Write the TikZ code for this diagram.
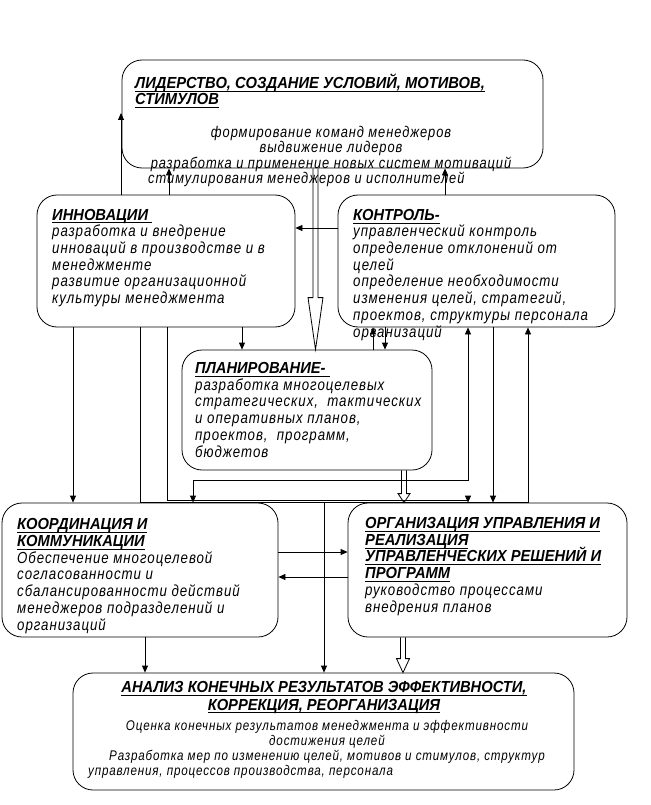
\documentclass[tikz,border=0pt]{standalone}
\usepackage{fontspec}
\newfontfamily\bodyfont{Liberation Sans}[FakeStretch=0.83,LetterSpace=6]
\newfontfamily\headfont{Liberation Sans}[FakeStretch=0.92]
\usetikzlibrary{arrows.meta,calc}

\newcommand{\hd}[1]{\smash{\headfont\bfseries\itshape\setbox0\hbox{#1}\rlap{\rule[-3.2pt]{\wd0}{0.75pt}}\box0}}
\newcommand{\hollowarr}[5]{%
  \draw[ln] ($(#1,0 |- #2)+(-2.5,0)$) -- ($(#1,0 |- #3)+(-2.5,-#4)$) -- ($(#1,0 |- #3)+(-#5,-#4)$)
    -- (#1,0 |- #3) -- ($(#1,0 |- #3)+(#5,-#4)$) -- ($(#1,0 |- #3)+(2.5,-#4)$) -- ($(#1,0 |- #2)+(2.5,0)$);}

\tikzset{
  blk/.style={draw, line width=0.8pt, rounded corners=20pt, inner sep=0pt},
  txt/.style={inner sep=0pt, anchor=base west, align=left, font=\bodyfont\itshape\fontsize{16}{16.7}\selectfont},
  ln/.style={line width=0.8pt},
  arr/.style={ln, -{Triangle[length=7pt,width=6pt]}},
  biarr/.style={ln, {Triangle[length=7pt,width=6pt]}-{Triangle[length=7pt,width=6pt]}},
}

\begin{document}
\begin{tikzpicture}[x=1pt,y=-1pt]
\useasboundingbox (0,0) rectangle (650,805);

\node[blk, minimum width=421pt, minimum height=108pt] (lead) at (332.5,114) {};
\node[blk, minimum width=258pt, minimum height=132pt] (innov) at (166,261) {};
\node[blk, minimum width=277pt, minimum height=132pt] (ctrl) at (476.5,261) {};
\node[blk, minimum width=250pt, minimum height=120pt] (plan) at (307,410) {};
\node[blk, minimum width=276pt, minimum height=134pt] (coord) at (140,570) {};
\node[blk, minimum width=279pt, minimum height=134pt] (org) at (487.5,570) {};
\node[blk, minimum width=501pt, minimum height=117pt] (anal) at (323.5,731.5) {};

\node[txt] (leadhd) at (135,105) {\hd{ЛИДЕРСТВО, СОЗДАНИЕ УСЛОВИЙ, МОТИВОВ,}\\\hd{СТИМУЛОВ}};
\node[txt, anchor=base, align=center, font=\bodyfont\itshape\fontsize{15.5}{15.3}\selectfont] (leadtxt) at (331,168)
  {формирование команд менеджеров\\выдвижение лидеров\\разработка и применение новых систем мотиваций};
\node[txt, font=\bodyfont\itshape\fontsize{15.5}{15.3}\selectfont] (leadend) at (148,184) {стимулирования менеджеров и исполнителей};

\node[txt] (innovtxt) at (52,303.5) {\hd{ИННОВАЦИИ\ }\\разработка и внедрение\\инноваций в производстве и в\\менеджменте\\развитие организационной\\культуры менеджмента};

\node[txt] (ctrltxt) at (353,337) {\hd{КОНТРОЛЬ-}\\управленческий контроль\\определение отклонений от\\целей\\определение необходимости\\изменения целей, стратегий,\\проектов, структуры персонала\\организаций};

\node[txt] (plantxt) at (195,457) {\hd{ПЛАНИРОВАНИЕ-\ }\\разработка многоцелевых\\стратегических,\ \ тактических\\и оперативных планов,\\проектов,\ \ программ,\\бюджетов};

\node[txt] (coordtxt) at (17,630) {\hd{КООРДИНАЦИЯ И}\\\hd{КОММУНИКАЦИИ}\\Обеспечение многоцелевой\\согласованности и\\сбалансированности действий\\менеджеров подразделений и\\организаций};

\node[txt] (orgtxt) at (365,612) {\hd{ОРГАНИЗАЦИЯ УПРАВЛЕНИЯ И}\\\hd{РЕАЛИЗАЦИЯ}\\\hd{УПРАВЛЕНЧЕСКИХ РЕШЕНИЙ И}\\\hd{ПРОГРАММ}\\руководство процессами\\внедрения планов};

\node[txt, anchor=base, align=center, font=\bodyfont\itshape\fontsize{16}{17.5}\selectfont] (analhd) at (324,710)
  {\hd{АНАЛИЗ КОНЕЧНЫХ РЕЗУЛЬТАТОВ ЭФФЕКТИВНОСТИ,}\\\hd{КОРРЕКЦИЯ, РЕОРГАНИЗАЦИЯ}};
\node[txt, anchor=base, align=center, font=\bodyfont\itshape\fontsize{14}{15}\selectfont] (analtxt) at (327,760)
  {Оценка конечных результатов менеджмента и эффективности\\достижения целей\\Разработка мер по изменению целей, мотивов и стимулов, структур};
\node[txt, font=\bodyfont\itshape\fontsize{14}{15}\selectfont] (analend) at (88,775) {управления, процессов производства, персонала};

\coordinate (leadside) at (121,113);
\draw[arr] (121,0 |- innov.north) -- (leadside);
\draw[arr] (169,0 |- innov.north) -- (169,0 |- lead.south);
\draw[arr] (445,0 |- ctrl.north) -- (445,0 |- lead.south);
\draw[arr] (ctrl.west |- 0,228) -- (innov.east |- 0,228);
\hollowarr{315.5}{lead.south}{plan.north}{52}{7.5}

\draw[arr] (242,0 |- innov.south) -- (242,0 |- plan.north);
\draw[arr] (73,0 |- innov.south) -- (73,0 |- coord.north);
\draw[ln] (140,0 |- innov.south) -- (140,0 |- coord.north) -- (528,0 |- org.north);
\draw[arr] (167,0 |- innov.south) -- (167,500) -- (468,500) -- (468,0 |- org.north);
\draw[biarr] (468,0 |- ctrl.south) -- (468,480) -- (193,480) -- (193,0 |- coord.north);

\draw[arr] (373,0 |- plan.north) -- (373,0 |- ctrl.south);
\draw[arr] (385,0 |- ctrl.south) -- (385,0 |- plan.north);
\draw[arr] (493,0 |- ctrl.south) -- (493,0 |- org.north);
\draw[arr] (528,0 |- org.north) -- (528,0 |- ctrl.south);
\hollowarr{404}{plan.south}{org.north}{9}{6}

\draw[arr] (coord.east |- 0,552) -- (org.west |- 0,552);
\draw[arr] (org.west |- 0,577) -- (coord.east |- 0,577);

\draw[arr] (145,0 |- coord.south) -- (145,0 |- anal.north);
\draw[arr] (324,0 |- coord.north) -- (324,0 |- anal.north);
\hollowarr{403}{org.south}{anal.north}{14}{6.5}

\end{tikzpicture}
\end{document}
